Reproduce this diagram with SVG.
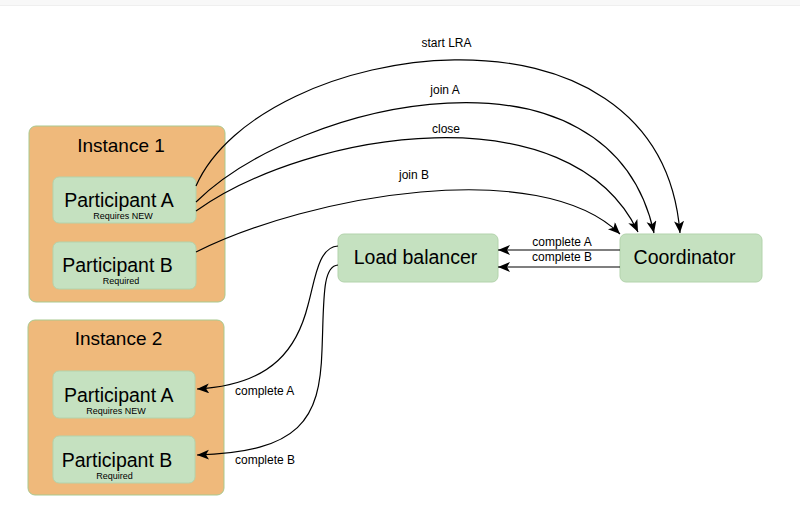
<svg xmlns="http://www.w3.org/2000/svg" width="800" height="522" viewBox="0 0 800 522">
<style>
.inst{fill:#EFB97B;stroke:#A9C98F;stroke-width:1}
.node{fill:#C5E1C0;stroke:#B3D3AC;stroke-width:1}
text{font-family:"Liberation Sans",Arial,sans-serif;fill:#000}
.big{font-size:19.5px;text-anchor:middle}
.title{font-size:19px;text-anchor:middle}
.sub{font-size:9px;text-anchor:middle}
.lbl{font-size:12px}
.mid{text-anchor:middle}
.conn{fill:none;stroke:#000;stroke-width:1.2;marker-end:url(#arr)}
</style>
<defs>
<marker id="arr" markerUnits="userSpaceOnUse" markerWidth="14" markerHeight="12" refX="12" refY="5" orient="auto">
<path d="M0,0 L12,5 L0,10 L3,5 Z" fill="#000"/>
</marker>
</defs>
<rect x="0" y="0" width="800" height="5" fill="#F8F8F8"/>
<line x1="0" y1="5.5" x2="800" y2="5.5" stroke="#EFEFEF" stroke-width="1"/>

<g id="instance1">
<rect class="inst" x="29" y="126" width="196" height="176" rx="7"/>
<text class="title" x="121" y="152">Instance 1</text>
</g>
<g id="inst1-participantA">
<rect class="node" x="53" y="177" width="143" height="46" rx="6"/>
<text class="big" x="119" y="207">Participant A</text>
<text class="sub" x="123" y="219">Requires NEW</text>
</g>
<g id="inst1-participantB">
<rect class="node" x="53" y="242" width="143" height="47" rx="6"/>
<text class="big" x="117.5" y="272">Participant B</text>
<text class="sub" x="121" y="284">Required</text>
</g>

<g id="instance2">
<rect class="inst" x="28" y="320" width="196" height="175" rx="7"/>
<text class="title" x="118.5" y="345">Instance 2</text>
</g>
<g id="inst2-participantA">
<rect class="node" x="53" y="371" width="142" height="47" rx="6"/>
<text class="big" x="118.7" y="401.5">Participant A</text>
<text class="sub" x="116" y="414">Requires NEW</text>
</g>
<g id="inst2-participantB">
<rect class="node" x="53" y="436" width="142" height="47" rx="6"/>
<text class="big" x="117" y="466.5">Participant B</text>
<text class="sub" x="114.5" y="479">Required</text>
</g>

<g id="load-balancer">
<rect class="node" x="338" y="234" width="160" height="48" rx="6"/>
<text class="big" x="415.5" y="264">Load balancer</text>
</g>
<g id="coordinator">
<rect class="node" x="620" y="234" width="142" height="48" rx="6"/>
<text class="big" x="684.5" y="264">Coordinator</text>
</g>

<g id="connectors">
<path class="conn" d="M196,186 C260,40 660,-20 680,233"/>
<path class="conn" d="M196,202 C300,100 610,30 654,233"/>
<path class="conn" d="M196,211 C310,130 570,90 638,232"/>
<path class="conn" d="M196,252 C310,195 540,155 620,234"/>
<path class="conn" d="M620,250 L498,250"/>
<path class="conn" d="M620,267 L498,267"/>
<path class="conn" d="M338,246 C318,247 315,280 308,305 C298,345 275,385 197,389"/>
<path class="conn" d="M338,265 C322,266 324,300 322,350 C320,420 300,452 197,455"/>
<text class="lbl mid" x="446.5" y="46.5">start LRA</text>
<text class="lbl mid" x="445" y="94">join A</text>
<text class="lbl mid" x="446" y="132.5">close</text>
<text class="lbl mid" x="414" y="179">join B</text>
<text class="lbl mid" x="562" y="246">complete A</text>
<text class="lbl mid" x="562" y="261">complete B</text>
<text class="lbl" x="235" y="394.5">complete A</text>
<text class="lbl" x="235" y="464">complete B</text>
</g>
</svg>
